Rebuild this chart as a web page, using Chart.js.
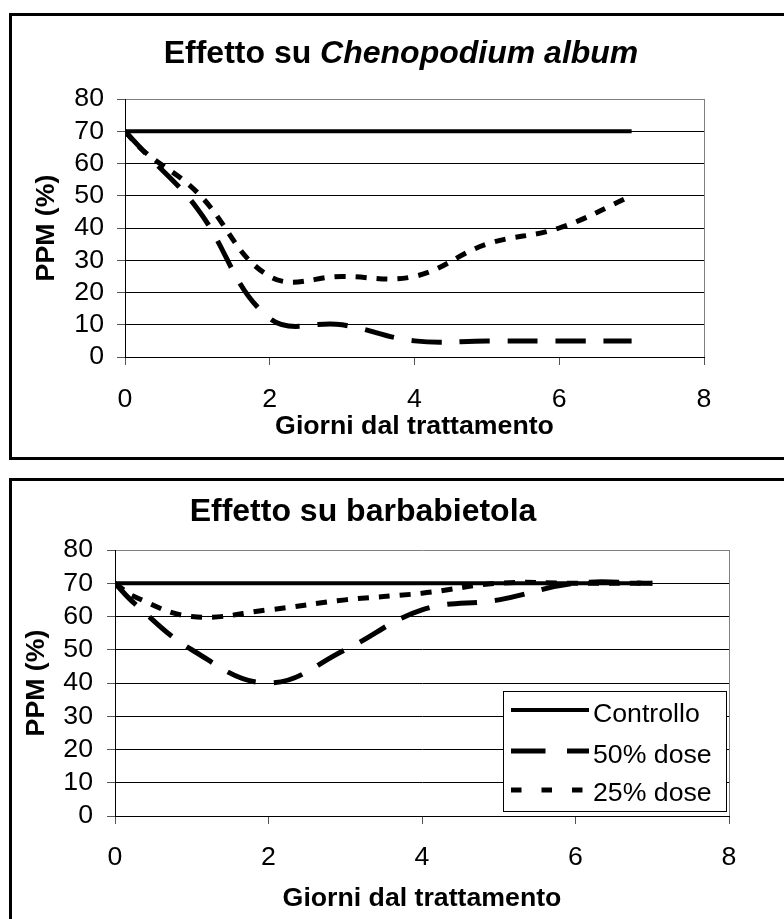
<!DOCTYPE html>
<html>
<head>
<meta charset="utf-8">
<script src="https://cdn.jsdelivr.net/npm/chart.js@4.4.1/dist/chart.umd.min.js"></script>
<style>
  html, body { margin: 0; padding: 0; background: #fff; }
  body { position: relative; width: 784px; height: 919px; overflow: hidden; }
  .frame { position: absolute; left: 9px; width: 800px; border: 3px solid #000; box-sizing: border-box; }
  #frame1 { top: 13px; height: 447px; }
  #frame2 { top: 478px; height: 480px; }
  canvas { position: absolute; left: 0; }
  #c1 { top: 0; }
  #c2 { top: 470px; }
</style>
</head>
<body>
<div class="frame" id="frame1"></div>
<div class="frame" id="frame2"></div>
<canvas id="c1" width="784" height="470"></canvas>
<canvas id="c2" width="784" height="449"></canvas>
<script>
// ─── DATI ──────────────────────────────────────────────────────────────────
const giorni       = [0, 0.25, 1, 2, 3, 4, 5, 6, 7];
const serieLabels  = ['Controllo', '50% dose', '25% dose'];

// Chenopodium album
const chenoControllo = [70, 70, 70, 70, 70, 70, 70, 70, 70];
const cheno50        = [70, 64, 46, 12, 10, 5, 5, 5, 5];
const cheno25        = [70, 64, 51, 25, 25, 25, 35, 40, 50];

// barbabietola
const bietaControllo = [70, 70, 70, 70, 70, 70, 70, 70, 70];
const bieta50        = [70, 64, 50, 40, 50, 62, 65, 70, 70];
const bieta25        = [70, 66, 60, 62, 65, 67, 70, 70, 70];

const xMin = 0, xMax = 8, xStep = 2;
const yMin = 0, yMax = 80, yStep = 10;

const FAM = '"Liberation Sans", Arial, sans-serif';
const FS  = 26.7;

Chart.defaults.font.family = FAM;
Chart.defaults.color = '#000';

// stile linee: continua, tratteggio lungo, tratteggio corto
const spessori     = [4, 5, 5];
const dashes       = [[], [30, 18], [11, 10]];
const legendDashes = [[], [34.5, 21.5], [10.5, 20]];

const toPts = vals => giorni.map((g, i) => ({ x: g, y: vals[i] }));

function makeDatasets(series) {
  return series.map((vals, i) => ({
    label: serieLabels[i],
    data: toPts(vals),
    borderColor: '#000',
    borderWidth: spessori[i],
    borderDash: dashes[i],
    borderCapStyle: 'butt',
    pointRadius: 0,
    tension: 0.4,
    fill: false,
  }));
}

// ─── PLUGIN ────────────────────────────────────────────────────────────────
const mixedTitle = {
  id: 'mixedTitle',
  afterDraw(chart, args, o) {
    const ctx = chart.ctx;
    const parts = o.parts;
    ctx.save();
    ctx.fillStyle = '#000';
    ctx.textBaseline = 'alphabetic';
    ctx.textAlign = 'left';
    const fonts = [], widths = [];
    let total = 0;
    for (let i = 0; i < parts.length; i++) {
      fonts[i] = (parts[i].italic ? 'italic ' : '') + 'bold ' + o.size + 'px ' + FAM;
      ctx.font = fonts[i];
      widths[i] = ctx.measureText(parts[i].text).width;
      total += widths[i];
    }
    let x = o.centerX - total / 2;
    for (let i = 0; i < parts.length; i++) {
      ctx.font = fonts[i];
      ctx.fillText(parts[i].text, x, o.baseline);
      x += widths[i];
    }
    ctx.restore();
  }
};

// bordo grigio destro dell'area del grafico
const plotFrame = {
  id: 'plotFrame',
  beforeDatasetsDraw(chart) {
    const { ctx, chartArea: a } = chart;
    const xr = Math.round(a.right) + 0.5;
    ctx.save();
    ctx.strokeStyle = '#808080';
    ctx.lineWidth = 1;
    ctx.beginPath();
    ctx.moveTo(xr, a.top);
    ctx.lineTo(xr, a.bottom);
    ctx.stroke();
    ctx.restore();
  }
};

const boxLegend = {
  id: 'boxLegend',
  afterDraw(chart, args, o) {
    if (!o.show) return;
    const ctx = chart.ctx;
    ctx.save();
    ctx.fillStyle = '#fff';
    ctx.fillRect(o.left, o.top, o.width, o.height);
    ctx.strokeStyle = '#000';
    ctx.lineWidth = 1;
    ctx.strokeRect(o.left + 0.5, o.top + 0.5, o.width - 1, o.height - 1);
    chart.data.datasets.forEach((ds, i) => {
      const y = o.lineY[i];
      ctx.beginPath();
      ctx.setLineDash(legendDashes[i]);
      ctx.lineWidth = ds.borderWidth;
      ctx.strokeStyle = ds.borderColor;
      ctx.lineCap = 'butt';
      ctx.moveTo(o.sampleX0, y);
      ctx.lineTo(o.sampleX1, y);
      ctx.stroke();
      ctx.setLineDash([]);
      ctx.fillStyle = '#000';
      ctx.font = FS + 'px ' + FAM;
      ctx.textBaseline = 'alphabetic';
      ctx.textAlign = 'left';
      ctx.fillText(ds.label, o.textX, o.baseY[i]);
    });
    ctx.restore();
  }
};

// ─── GRAFICO ───────────────────────────────────────────────────────────────
function makeChart(canvasId, series, cfg) {
  return new Chart(document.getElementById(canvasId), {
    type: 'line',
    data: { datasets: makeDatasets(series) },
    plugins: [plotFrame, mixedTitle, boxLegend],
    options: {
      responsive: false,
      animation: false,
      devicePixelRatio: 1,
      layout: { padding: { left: 0, right: cfg.padRight, top: cfg.padTop, bottom: 0 } },
      plugins: {
        legend: { display: false },
        title: { display: false },
        tooltip: { enabled: false },
        mixedTitle: cfg.title,
        boxLegend: cfg.legend,
      },
      scales: {
        x: {
          type: 'linear',
          min: xMin, max: xMax,
          afterFit: s => { s.height = cfg.xHeight; },
          ticks: { stepSize: xStep, autoSkip: false, maxRotation: 0, padding: cfg.xTickPad, font: { size: FS } },
          grid: { drawOnChartArea: false, drawTicks: true, tickLength: 8, tickColor: '#555' },
          border: { color: '#000', width: 1 },
          title: {
            display: true,
            text: 'Giorni dal trattamento',
            font: { size: FS, weight: 'bold' },
            padding: { top: 0, bottom: cfg.xTitlePad },
          },
        },
        y: {
          min: yMin, max: yMax,
          afterFit: s => { s.width = cfg.yWidth; },
          ticks: { stepSize: yStep, autoSkip: false, padding: cfg.yTickPad, font: { size: FS } },
          grid: {
            color: c => (c.tick && c.tick.value === yMax ? '#808080' : '#000'),
            tickLength: 8,
            tickColor: '#555',
          },
          border: { color: '#000', width: 1 },
          title: {
            display: true,
            text: 'PPM (%)',
            font: { size: FS, weight: 'bold' },
            padding: { top: cfg.yTitlePad, bottom: 0 },
          },
        },
      },
    },
  });
}

makeChart('c1', [chenoControllo, cheno50, cheno25], {
  padRight: 80, padTop: 99, xHeight: 113, yWidth: 125,
  xTickPad: 18.5, yTickPad: 13, xTitlePad: 27.5, yTitlePad: 30.5,
  title: {
    parts: [{ text: 'Effetto su ', italic: false }, { text: 'Chenopodium album', italic: true }],
    size: 32, centerX: 401, baseline: 63,
  },
  legend: { show: false },
});

makeChart('c2', [bietaControllo, bieta50, bieta25], {
  padRight: 55, padTop: 80, xHeight: 103, yWidth: 115,
  xTickPad: 17.5, yTickPad: 14, xTitlePad: 4.5, yTitlePad: 20.5,
  title: {
    parts: [{ text: 'Effetto su barbabietola', italic: false }],
    size: 32, centerX: 363, baseline: 51,
  },
  legend: {
    show: true,
    left: 503, top: 221, width: 224, height: 121,
    sampleX0: 511, sampleX1: 589, textX: 593,
    lineY: [240, 281, 320],
    baseY: [251.6, 292.6, 330.6],
  },
});
</script>
</body>
</html>
